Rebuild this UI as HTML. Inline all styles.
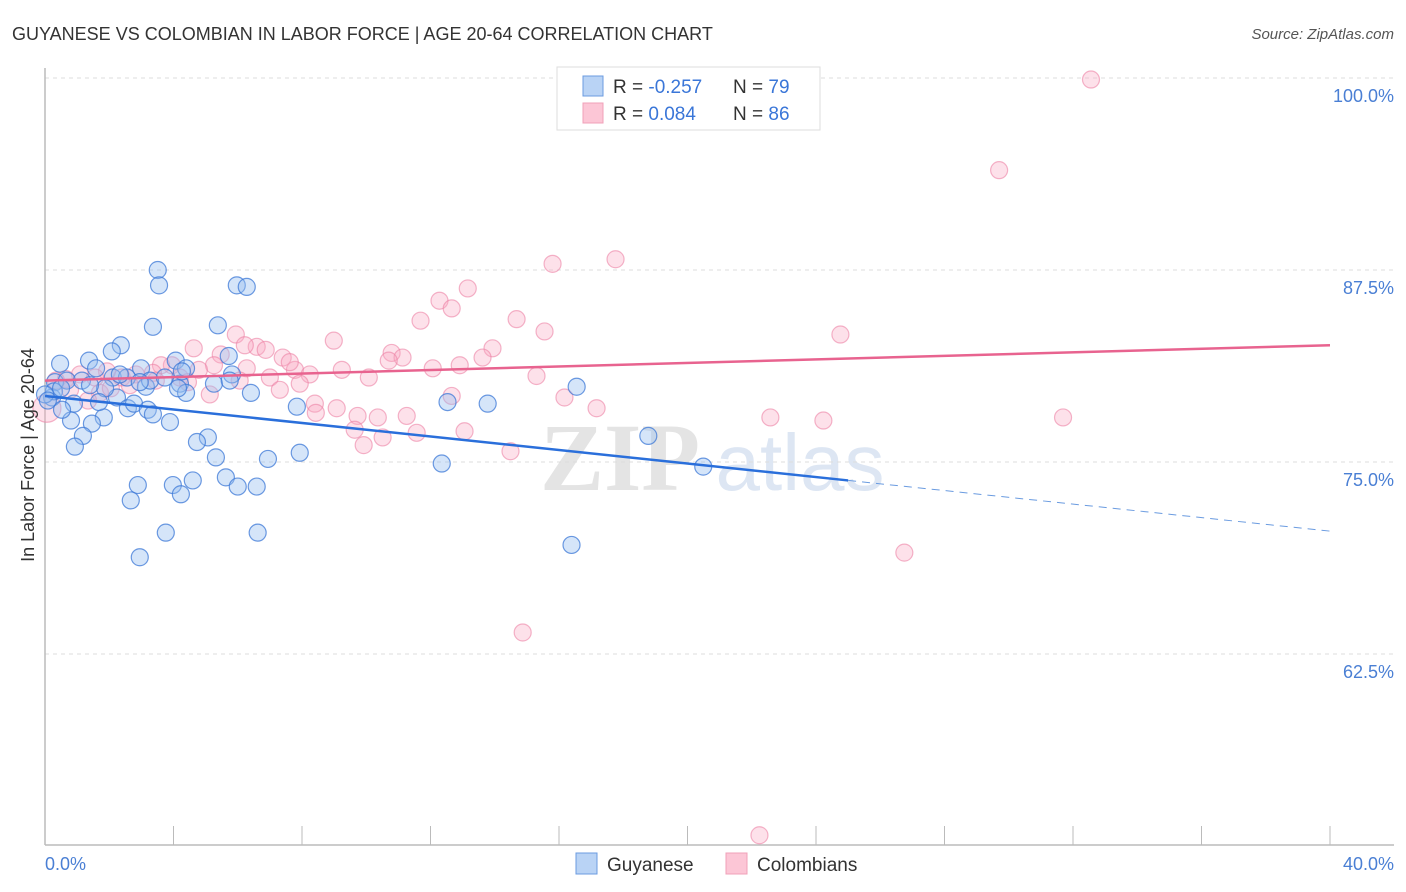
<!DOCTYPE html>
<html><head><meta charset="utf-8"><style>
body{margin:0;background:#fff;font-family:"Liberation Sans",sans-serif;}
svg{display:block}
</style></head><body>
<svg id="c" width="1406" height="892" xmlns="http://www.w3.org/2000/svg">
<text x="12" y="40" font-size="18" fill="#333">GUYANESE VS COLOMBIAN IN LABOR FORCE | AGE 20-64 CORRELATION CHART</text>
<text x="1394" y="39" font-size="15" fill="#555" font-style="italic" text-anchor="end">Source: ZipAtlas.com</text>
<text x="620" y="490" font-size="96" fill="#e4e4e4" font-family="Liberation Serif" font-weight="bold" text-anchor="middle">ZIP</text>
<text x="800" y="490" font-size="80" fill="#dde6f3" text-anchor="middle">atlas</text>
<g id="grid"></g>
<g id="axes"></g>
<g id="pts"></g>
<g id="trend"></g>
<text x="34" y="455" font-size="18" fill="#333" text-anchor="middle" transform="rotate(-90 34 455)">In Labor Force | Age 20-64</text>
<text x="45" y="870" font-size="18" fill="#4a7fd4">0.0%</text>
<text x="1394" y="870" font-size="18" fill="#4a7fd4" text-anchor="end">40.0%</text>
<g>
<rect x="557" y="67" width="263" height="63" fill="#fff" stroke="#ddd"/>
<rect x="583" y="76" width="20" height="20" fill="#b9d3f5" stroke="#6b9be0"/>
<rect x="583" y="103" width="20" height="20" fill="#fcc6d6" stroke="#f0a0b8"/>
<text x="613" y="93" font-size="19" fill="#333">R = <tspan fill="#3a76d8">-0.257</tspan></text>
<text x="733" y="93" font-size="19" fill="#333">N = <tspan fill="#3a76d8">79</tspan></text>
<text x="613" y="120" font-size="19" fill="#333">R = <tspan fill="#3a76d8"> 0.084</tspan></text>
<text x="733" y="120" font-size="19" fill="#333">N = <tspan fill="#3a76d8">86</tspan></text>
</g>
<g>
<rect x="576" y="853" width="21" height="21" fill="#b9d3f5" stroke="#6b9be0"/>
<text x="607" y="871" font-size="19" fill="#333">Guyanese</text>
<rect x="726" y="853" width="21" height="21" fill="#fcc6d6" stroke="#f0a0b8"/>
<text x="757" y="871" font-size="19" fill="#333">Colombians</text>
</g>
</svg>
<script>
const yTicks=[100,87.5,75,62.5];
const yTickLabels=["100.0%","87.5%","75.0%","62.5%"];
const xTicks=[0,4,8,12,16,20,24,28,32,36,40];
const blueX=[3.51,3.55,5.97,6.28,3.36,5.38,2.36,2.08,0.47,1.37,1.59,2.99,4.07,4.39,5.72,5.82,0.31,0.68,1.15,2.11,2.55,3.14,4.2,5.26,6.41,4.39,4.14,0.22,0.9,2.24,2.58,2.77,3.2,3.36,1.83,0.81,1.46,3.89,7.84,12.53,13.78,16.55,0.28,0.5,5.07,4.73,1.18,0.93,5.32,6.94,7.93,12.35,18.78,20.49,5.63,6.0,6.59,4.6,3.98,4.23,2.89,2.67,3.76,6.62,2.95,16.39,5.75,2.33,1.87,0,0.09,1.4,3.27,3.73,4.26,1.68,0.53,2.95];
const blueY=[87.5,86.5,86.5,86.4,83.8,83.9,82.6,82.2,81.4,81.6,81.1,81.1,81.6,81.1,81.9,80.7,80.2,80.3,80.3,80.5,80.5,79.9,80.1,80.1,79.5,79.5,79.8,79.2,78.8,79.2,78.5,78.8,78.4,78.1,77.9,77.7,77.5,77.6,78.6,78.9,78.8,79.9,79.6,79.8,76.6,76.3,76.7,76.0,75.3,75.2,75.6,74.9,76.7,74.7,74.0,73.4,73.4,73.8,73.5,72.9,73.5,72.5,70.4,70.4,68.8,69.6,80.3,80.7,79.8,79.4,79.0,80.0,80.3,80.5,80.9,78.9,78.4,80.2];
const pinkX=[32.56,29.7,17.76,15.8,13.16,12.28,12.66,11.69,14.68,15.55,8.99,5.94,4.63,6.59,6.87,6.22,5.47,7.4,24.76,10.79,11.13,10.7,13.93,13.62,12.91,12.07,9.24,10.08,7.78,8.24,7.93,7.0,6.28,5.26,4.79,3.95,3.61,3.36,3.45,2.83,2.39,1.93,1.09,0.65,0.34,15.3,16.17,17.17,12.66,11.26,10.36,9.73,10.51,9.64,9.08,8.4,8.43,9.92,11.57,13.06,14.49,22.58,24.23,31.69,26.75,14.87,22.24,0.06,1.71,1.34,2.64,4.2,5.13,7.31,1.56,0.78,2.05,4.45,6.06,7.62];
const pinkY=[99.9,94.0,88.2,87.9,86.3,85.5,85.0,84.2,84.3,83.5,82.9,83.3,82.4,82.5,82.3,82.6,82.0,81.8,83.3,82.1,81.8,81.6,82.4,81.8,81.3,81.1,81.0,80.5,81.0,80.7,80.1,80.5,81.1,81.3,81.0,81.3,81.3,80.8,80.3,80.7,80.5,80.9,80.7,80.4,80.3,80.6,79.2,78.5,79.3,78.0,77.9,78.0,76.6,77.1,78.5,78.8,78.2,76.1,76.9,77.0,75.7,77.9,77.7,77.9,69.1,63.9,50.7,78.5,79.5,79.0,80.0,80.5,79.4,79.7,80.5,79.7,79.8,80.2,80.3,81.5];
const blueTrend=[[0,79.3],[25,73.8]];
const blueTrendExt=[[25,73.8],[40,70.5]];
const pinkTrend=[[0,80.3],[40,82.6]];
const NS="http://www.w3.org/2000/svg";
const sx=v=>45+v/40*1285;
const sy=v=>78+(100-v)*15.36;
function mk(t,a,p){const e=document.createElementNS(NS,t);for(const k in a)e.setAttribute(k,a[k]);p.appendChild(e);return e;}
const grid=document.getElementById('grid'),axes=document.getElementById('axes'),pts=document.getElementById('pts'),tr=document.getElementById('trend');
yTicks.forEach((t,i)=>{
 const l=mk('line',{x1:45,x2:1394,y1:sy(t),y2:sy(t),stroke:'#ddd','stroke-dasharray':'4 4'},grid);
 
 
 const tx=mk('text',{x:1394,y:sy(t)+24,'font-size':18,fill:'#4a7fd4','text-anchor':'end'},axes);
 tx.textContent=yTickLabels[i];
 
 
});
const ax=mk('line',{x1:45,x2:1394,y1:845,y2:845,stroke:'#bbb','stroke-width':1.5},axes);


const ay=mk('line',{x1:45,x2:45,y1:68,y2:845,stroke:'#bbb','stroke-width':1.5},axes);


xTicks.forEach(t=>{
 const l=mk('line',{x1:sx(t),x2:sx(t),y1:826,y2:845,stroke:'#bbb'},axes);
 
 
});
pinkX.forEach((x,i)=>{
 const c=mk('circle',{cx:sx(x),cy:sy(pinkY[i]),r:i===67?14:8.5,fill:'rgba(248,170,195,0.35)',stroke:'rgba(236,130,165,0.6)','stroke-width':1.2},pts);
 
 
});
blueX.forEach((x,i)=>{
 const c=mk('circle',{cx:sx(x),cy:sy(blueY[i]),r:8.5,fill:'rgba(150,190,240,0.4)',stroke:'rgba(60,120,215,0.75)','stroke-width':1.2},pts);
 
 
});
function line(p,st,dash,name,w){const a={x1:sx(p[0][0]),y1:sy(p[0][1]),x2:sx(p[1][0]),y2:sy(p[1][1]),stroke:st,'stroke-width':w};if(dash)a['stroke-dasharray']=dash;const l=mk('line',a,tr);}
line(blueTrend,'#2a6fdb',null,'guyanese-trend-line',2.5);
line(blueTrendExt,'#6a9be0','8 6','guyanese-trend-extension',1);
line(pinkTrend,'#e8638f',null,'colombians-trend-line',2.5);
</script>
</body></html>
